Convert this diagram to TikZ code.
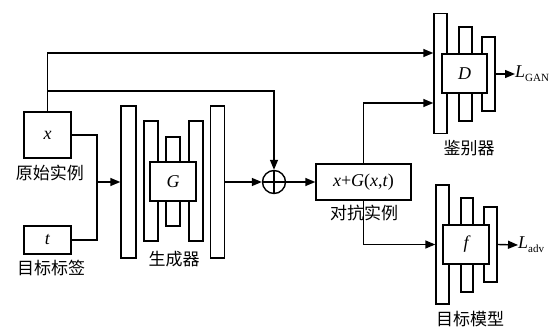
\documentclass[tikz,border=0pt]{standalone}
\usepackage{fontspec}
\setmainfont{Liberation Serif}
\newfontfamily\cjk{Noto Sans CJK SC}
\usetikzlibrary{arrows.meta}
\begin{document}
\begin{tikzpicture}[x=1pt,y=-1pt,
  lw/.style={line width=1.4pt},
  box/.style={draw, fill=white, line width=1.4pt, inner sep=0pt},
  arr/.style={line width=1.4pt, -{Triangle[length=10pt,width=8pt]}},
  zh/.style={font=\cjk\fontsize{17}{17}\selectfont, inner sep=0pt},
  lab/.style={font=\fontsize{18}{18}\selectfont\itshape, inner sep=0pt}]
\useasboundingbox (0,0) rectangle (555,329);
% input boxes
\node[box, minimum width=47, minimum height=46, lab] (xb) at (47.5,135) {x};
\node[zh] (xl) at (50,173) {原始实例};
\node[box, minimum width=47, minimum height=28, lab] (tb) at (47.5,240) {t};
\node[zh] (tl) at (51,268) {目标标签};
% generator
\node[box, minimum width=15, minimum height=152] (g1) at (128.5,182) {};
\node[box, minimum width=14, minimum height=120] (g2) at (151,181) {};
\node[box, minimum width=14, minimum height=89] (g3) at (173,181.5) {};
\node[box, minimum width=14, minimum height=120] (g4) at (195.8,181) {};
\node[box, minimum width=14, minimum height=152] (g5) at (217.5,182) {};
\node[box, minimum width=46, minimum height=39, lab] (gb) at (173,181.5) {G};
\node[zh] (gl) at (174,259) {生成器};
% adder
\node[draw, circle, line width=1.4pt, minimum size=23, inner sep=0pt] (op) at (274,182) {};
\draw[lw] (op.north) -- (op.south) (op.west) -- (op.east);
% adversarial example
\node[box, minimum width=95, minimum height=36, font=\fontsize{18}{18}\selectfont] (adv) at (363.5,182) {\textit{x}+\textit{G}(\textit{x},\textit{t})};
\node[zh] (al) at (364,213) {对抗实例};
% discriminator
\node[box, minimum width=13, minimum height=120] (d1) at (440.5,73.5) {};
\node[box, minimum width=13, minimum height=94] (d2) at (465.5,74) {};
\node[box, minimum width=13, minimum height=74] (d3) at (488.5,74) {};
\node[box, minimum width=45, minimum height=39, lab] (db) at (464.5,73.5) {D};
\node[zh] (dl) at (469,148) {鉴别器};
\node[anchor=west, inner sep=0pt, font=\fontsize{18}{18}\selectfont] (lg) at (515,74) {\textit{L}\raisebox{-4pt}{\fontsize{11}{11}\selectfont GAN}};
% target model
\node[box, minimum width=13, minimum height=119] (f1) at (442.5,244.5) {};
\node[box, minimum width=12, minimum height=94] (f2) at (467,245) {};
\node[box, minimum width=13, minimum height=75] (f3) at (490.5,244.5) {};
\node[box, minimum width=46, minimum height=39, lab] (fb) at (466,244.5) {f};
\node[zh] (fl) at (470,319) {目标模型};
\node[anchor=west, inner sep=0pt, font=\fontsize{18}{18}\selectfont] (la) at (518,245) {\textit{L}\raisebox{-4pt}{\fontsize{11}{11}\selectfont adv}};
% coordinates
\coordinate (ya) at (0,53);
\coordinate (yb) at (0,91);
\coordinate (yc) at (0,103);
\coordinate (jx) at (97,182);
% connectors
\draw[arr] (xb.north) |- (d1.west |- ya);
\draw[arr] (xb.north |- yb) -| (op.north);
\draw[lw] (xb.east) -| (jx) |- (tb.east);
\draw[arr] (jx) -- (g1.west |- jx);
\draw[arr] (g5.east |- op) -- (op.west);
\draw[arr] (op.east) -- (adv.west);
\draw[arr] (adv.north) |- (d1.west |- yc);
\draw[arr] (adv.south) |- (f1.west);
\draw[arr] (d3.east) -- (lg.west);
\draw[arr] (f3.east) -- (la.west);
\end{tikzpicture}
\end{document}
